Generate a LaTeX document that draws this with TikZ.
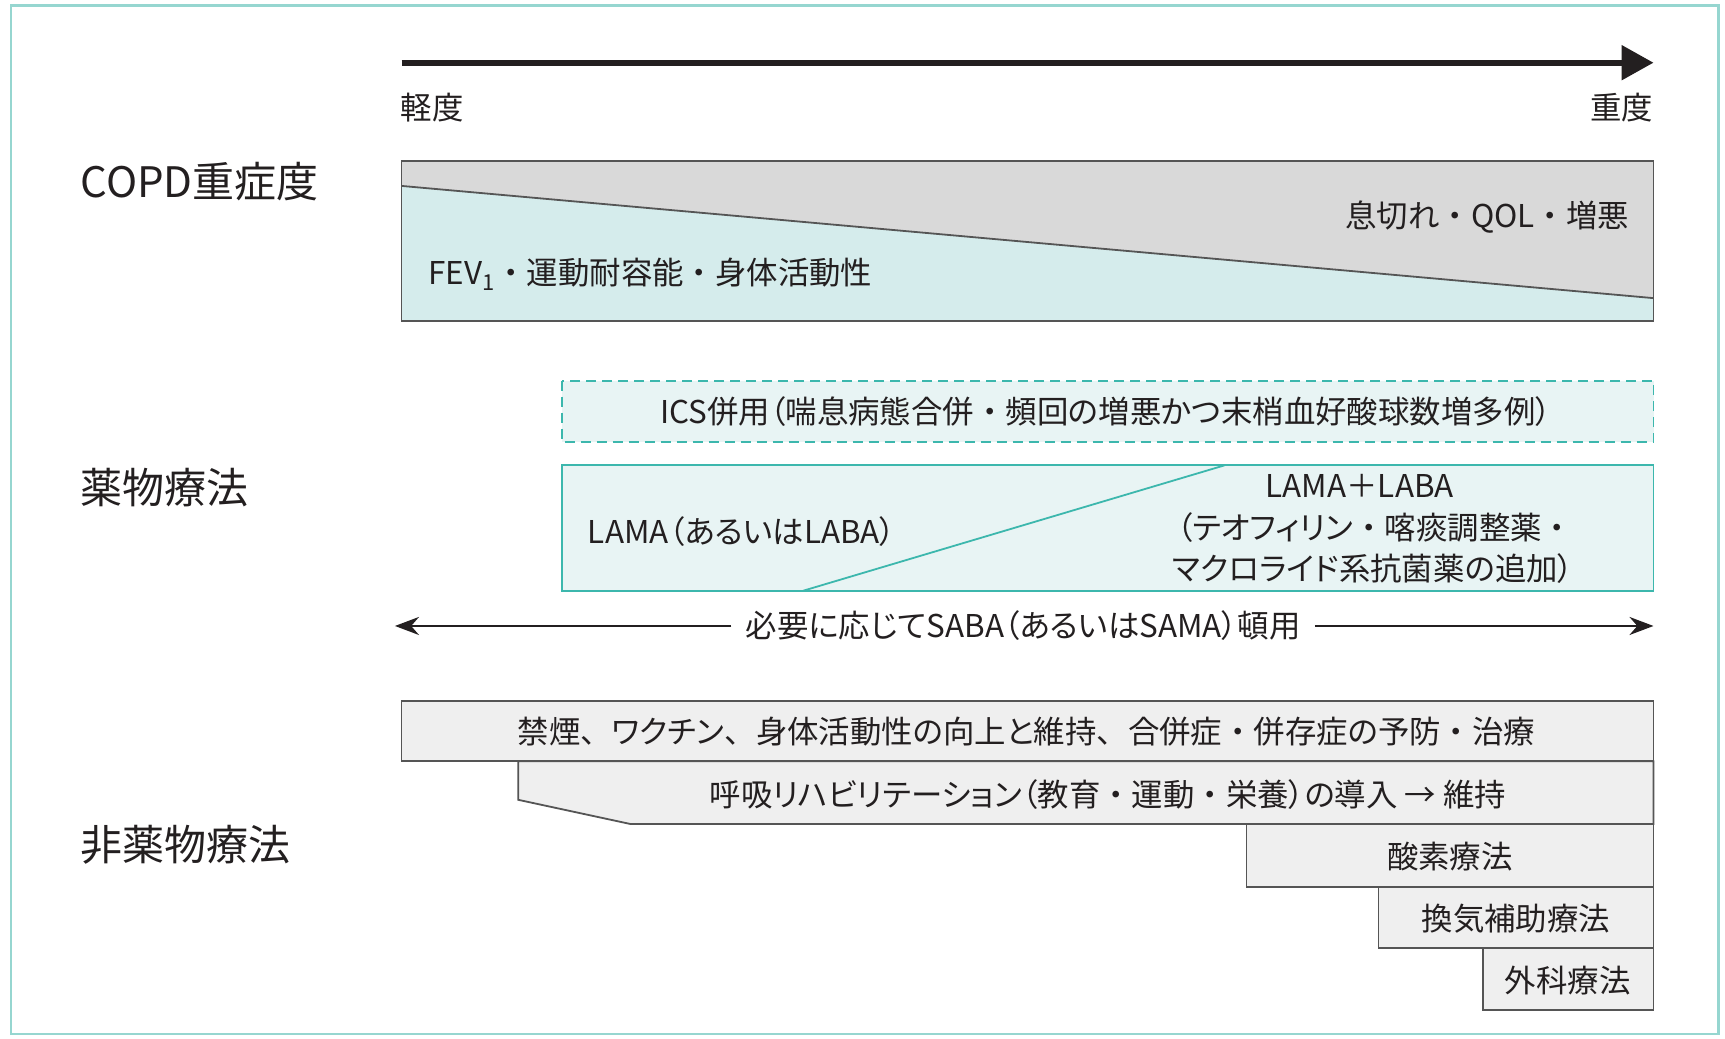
\documentclass[tikz,border=0pt]{standalone}
\usepackage{fontspec}
\setmainfont{Noto Sans CJK JP}[RawFeature=+palt]
\newfontfamily\fwfont{Noto Sans CJK JP}
\newcommand{\nk}{{\fwfont ・}}
\newcommand{\tn}{{\fwfont 、}}
\usetikzlibrary{arrows.meta}
\definecolor{frameC}{RGB}{150,214,208}
\definecolor{ink}{RGB}{35,31,32}
\definecolor{grayA}{RGB}{217,217,217}
\definecolor{cyanA}{RGB}{213,236,236}
\definecolor{edgeG}{RGB}{85,85,85}
\definecolor{tealL}{RGB}{60,183,173}
\definecolor{tealF}{RGB}{232,244,244}
\definecolor{boxG}{RGB}{239,239,239}
\tikzset{
  txt/.style={text=ink, inner sep=0pt, font=\fontsize{15.7}{19}\selectfont},
  head/.style={text=ink, inner sep=0pt, font=\fontsize{21}{25}\selectfont},
  gbox/.style={fill=boxG, draw=edgeG, line width=0.9pt},
  tbox/.style={fill=tealF, draw=tealL, line width=0.9pt}
}
\begin{document}
\begin{tikzpicture}[x=0.55pt,y=-0.55pt]
\useasboundingbox (0,0) rectangle (1568,944);
% outer frame
\draw[frameC, line width=1.2pt] (10,5) rectangle (1562,940);

% severity arrow
\coordinate (sevL) at (365,57);
\coordinate (sevR) at (1503,57);
\draw[ink, line width=2.8pt, -{Triangle[length=16pt,width=17pt]}] (sevL) -- (sevR);
\node[txt, anchor=west] (mild) at (364,98) {軽度};
\node[txt, anchor=east] (severe) at (1503,98) {重度};

% headings
\node[head, anchor=west] (h1) at (73,165) {COPD重症度};
\node[head, anchor=west] (h2) at (73,443) {薬物療法};
\node[head, anchor=west] (h3) at (73,768) {非薬物療法};

% COPD severity box
\fill[grayA] (365,146) -- (1503,146) -- (1503,271) -- (365,169) -- cycle;
\fill[cyanA] (365,169) -- (1503,271) -- (1503,292) -- (365,292) -- cycle;
\draw[edgeG, line width=0.9pt] (365,169) -- (1503,271);
\draw[edgeG, line width=0.9pt] (365,146) rectangle (1503,292);
\node[txt, anchor=east] (sym) at (1481,197) {息切れ\nk QOL\nk 増悪};
\node[txt, anchor=west] (fev) at (389,249) {FEV\textsubscript{1}\nk 運動耐容能\nk 身体活動性};

% ICS dashed box
\draw[tbox, dashed, dash pattern=on 5pt off 3pt] (511,346) rectangle (1503,402);
\node[txt] (ics) at (1005,374) {ICS併用（喘息病態合併\nk 頻回の増悪かつ末梢血好酸球数増多例）};

% LAMA box
\draw[tbox] (511,423) rectangle (1503,537);
\draw[tealL, line width=0.9pt] (730,537) -- (1113,423);
\node[txt, anchor=west] (lama) at (534,483) {LAMA（あるいはLABA）};
\node[txt] (lamalaba1) at (1236,442) {LAMA＋LABA};
\node[txt] (lamalaba2) at (1250,480) {（テオフィリン\nk 喀痰調整薬\nk};
\node[txt] (lamalaba3) at (1248,517) {マクロライド系抗菌薬の追加）};

% SABA arrow
\coordinate (sabaL) at (359,569);
\coordinate (sabaR) at (1503,569);
\node[txt, inner xsep=7pt] (saba) at (930,569) {必要に応じてSABA（あるいはSAMA）頓用};
\draw[ink, line width=1.2pt, -{Stealth[length=12pt,width=9pt]}] (saba.west) -- (sabaL);
\draw[ink, line width=1.2pt, -{Stealth[length=12pt,width=9pt]}] (saba.east) -- (sabaR);

% non-pharmacological boxes
\draw[gbox] (365,637) rectangle (1503,692);
\node[txt] (nA) at (933,665) {禁煙\tn ワクチン\tn 身体活動性の向上と維持\tn 合併症\nk 併存症の予防\nk 治療};
\draw[gbox] (471,692) -- (1503,692) -- (1503,749) -- (573,749) -- (471,727) -- cycle;
\node[txt] (nB) at (1007,722) {呼吸リハビリテーション（教育\nk 運動\nk 栄養）の導入 → 維持};
\draw[gbox] (1133,749) rectangle (1503,806);
\node[txt] (nC) at (1318,779) {酸素療法};
\draw[gbox] (1253,806) rectangle (1503,862);
\node[txt] (nD) at (1378,835) {換気補助療法};
\draw[gbox] (1348,862) rectangle (1503,918);
\node[txt] (nE) at (1425,891) {外科療法};
\end{tikzpicture}
\end{document}
